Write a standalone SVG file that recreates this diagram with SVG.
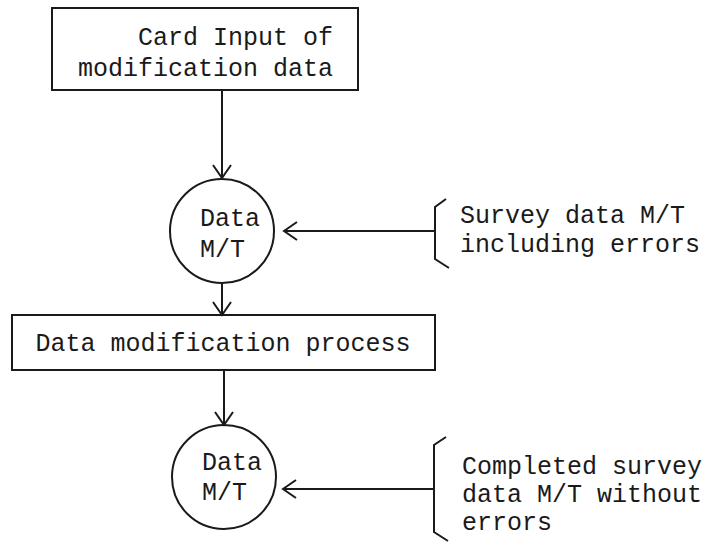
<svg xmlns="http://www.w3.org/2000/svg" width="710" height="543" viewBox="0 0 710 543">
  <style>
    .shape { fill: none; stroke: #1a1a1a; stroke-width: 2; }
    .line { fill: none; stroke: #1a1a1a; stroke-width: 2; }
    .head { fill: none; stroke: #1a1a1a; stroke-width: 2; stroke-linejoin: miter; }
    text { font-family: "Liberation Mono", "Courier New", monospace; font-size: 25px; fill: #1a1a1a; }
  </style>
  <defs>
    <marker id="open-arrow" markerUnits="userSpaceOnUse" markerWidth="24" markerHeight="24" refX="14" refY="10" orient="auto">
      <path class="head" d="M1,1 L14,10 L1,19"/>
    </marker>
  </defs>
  <rect width="710" height="543" fill="#ffffff"/>

  <!-- process box: card input -->
  <g id="card-input">
    <rect class="shape" x="52" y="8" width="306" height="82"/>
    <text x="333" y="45" text-anchor="end">Card Input of</text>
    <text x="333" y="76" text-anchor="end">modification data</text>
  </g>

  <!-- magnetic tape: data -->
  <g id="data-mt-1">
    <circle class="shape" cx="222" cy="231" r="52"/>
    <text x="200" y="226">Data</text>
    <text x="200" y="257">M/T</text>
  </g>

  <!-- source bracket: survey data with errors -->
  <g id="survey-data">
    <path class="shape" d="M446,199 L435,207 L435,259 L449,268"/>
    <text x="460" y="223">Survey data M/T</text>
    <text x="460" y="252">including errors</text>
  </g>

  <!-- process box: modification -->
  <g id="modification-process">
    <rect class="shape" x="12" y="315" width="423" height="55"/>
    <text x="223" y="351" text-anchor="middle">Data modification process</text>
  </g>

  <!-- magnetic tape: completed data -->
  <g id="data-mt-2">
    <circle class="shape" cx="224" cy="477" r="52"/>
    <text x="202" y="470">Data</text>
    <text x="202" y="500">M/T</text>
  </g>

  <!-- source bracket: completed survey data -->
  <g id="completed-data">
    <path class="shape" d="M446,437 L434,445 L434,532 L448,541"/>
    <text x="462" y="474">Completed survey</text>
    <text x="462" y="502">data M/T without</text>
    <text x="462" y="530">errors</text>
  </g>

  <!-- connectors -->
  <g id="connectors">
    <line class="line" x1="222" y1="90" x2="222" y2="178" marker-end="url(#open-arrow)"/>
    <line class="line" x1="435" y1="231" x2="284" y2="231" marker-end="url(#open-arrow)"/>
    <line class="line" x1="222" y1="283" x2="222" y2="315" marker-end="url(#open-arrow)"/>
    <line class="line" x1="224" y1="370" x2="224" y2="425" marker-end="url(#open-arrow)"/>
    <line class="line" x1="434" y1="489" x2="283" y2="489" marker-end="url(#open-arrow)"/>
  </g>
</svg>
